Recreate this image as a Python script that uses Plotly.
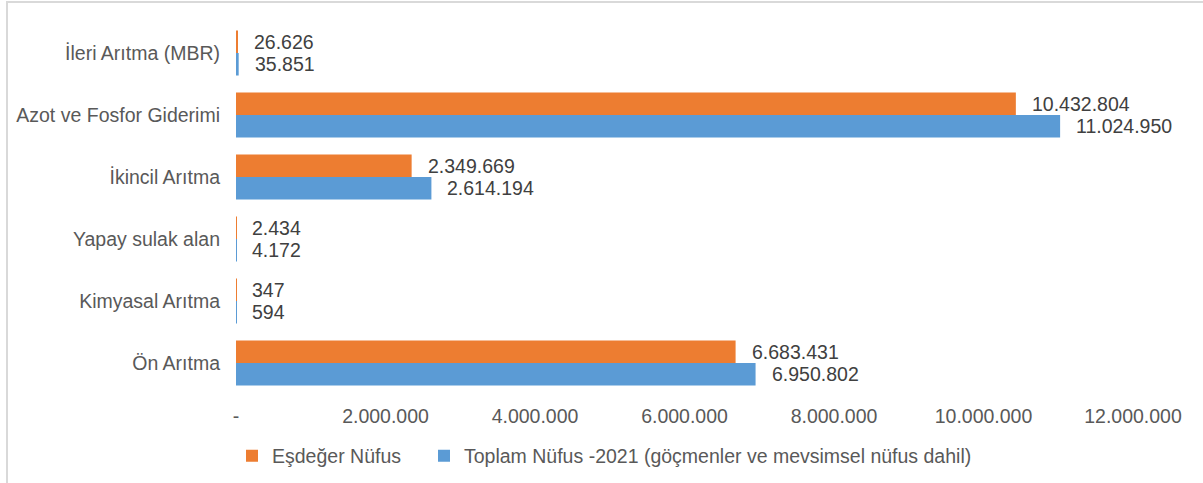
import plotly.graph_objects as go

# ---- data ----
categories = ["İleri Arıtma (MBR)", "Azot ve Fosfor Giderimi", "İkincil Arıtma",
              "Yapay sulak alan", "Kimyasal Arıtma", "Ön Arıtma"]
esdeger_nufus = [26626, 10432804, 2349669, 2434, 347, 6683431]
toplam_nufus = [35851, 11024950, 2614194, 4172, 594, 6950802]
series_names = ["Eşdeğer Nüfus", "Toplam Nüfus -2021 (göçmenler ve mevsimsel nüfus dahil)"]
tick_values = [0, 2000000, 4000000, 6000000, 8000000, 10000000, 12000000]
tick_labels = ["-", "2.000.000", "4.000.000", "6.000.000", "8.000.000", "10.000.000", "12.000.000"]

# ---- style ----
W, H = 1203, 483
ML, MR, MT, MB = 236, 70, 22, 89
ORANGE = "#ED7D31"
BLUE = "#5B9BD5"
AXIS_COLOR = "#595959"
LABEL_COLOR = "#404040"
FONT = "Liberation Sans, Arial, Helvetica, sans-serif"
FS = 19.5
BARGAP = 0.274


def fmt(v):
    return f"{v:,}".replace(",", ".")


fig = go.Figure()
fig.add_trace(go.Bar(y=categories, x=esdeger_nufus, orientation="h", name=series_names[0],
                     marker=dict(color=ORANGE, line=dict(width=0)), legend="legend"))
fig.add_trace(go.Bar(y=categories, x=toplam_nufus, orientation="h", name=series_names[1],
                     marker=dict(color=BLUE, line=dict(width=0)), legend="legend2"))

# data labels
half = (1 - BARGAP) / 2 / 2
annotations = []
for i, (a, b) in enumerate(zip(esdeger_nufus, toplam_nufus)):
    for val, off in ((a, -half), (b, half)):
        annotations.append(dict(x=val, y=i + off, xref="x", yref="y", text=fmt(val),
                                showarrow=False, xanchor="left", yanchor="middle", xshift=14,
                                font=dict(family=FONT, size=FS, color=LABEL_COLOR)))

pw = W - ML - MR
ph = H - MT - MB


def px_x(p):
    return (p - ML) / pw


def px_y(p):
    return (H - MB - p) / ph


shapes = [
    dict(type="line", xref="paper", yref="paper", x0=px_x(7), x1=px_x(7), y0=px_y(1), y1=px_y(H + 5),
         line=dict(color="#D9D9D9", width=2)),
    dict(type="line", xref="paper", yref="paper", x0=px_x(6), x1=px_x(W + 5), y0=px_y(2), y1=px_y(2),
         line=dict(color="#D9D9D9", width=2)),
]

legend_common = dict(orientation="h", xanchor="left", yanchor="middle",
                     font=dict(family=FONT, size=FS, color=AXIS_COLOR), bgcolor="rgba(0,0,0,0)")

fig.update_layout(
    width=W, height=H,
    margin=dict(l=ML, r=MR, t=MT, b=MB, autoexpand=False),
    paper_bgcolor="white", plot_bgcolor="white",
    barmode="group", bargap=BARGAP, bargroupgap=0,
    font=dict(family=FONT, size=FS, color=AXIS_COLOR),
    showlegend=True,
    legend=dict(x=px_x(232), y=px_y(456), **legend_common),
    legend2=dict(x=px_x(424), y=px_y(456), **legend_common),
    annotations=annotations,
    shapes=shapes,
)
fig.update_xaxes(range=[0, 12000000], tickvals=tick_values, ticktext=tick_labels,
                 showgrid=False, zeroline=False, showline=False, ticks="",
                 tickfont=dict(family=FONT, size=FS, color=AXIS_COLOR), ticklabelstandoff=8,
                 fixedrange=True)
fig.update_yaxes(autorange="reversed", showgrid=False, zeroline=False, showline=False, ticks="",
                 tickfont=dict(family=FONT, size=FS, color=AXIS_COLOR), ticklabelstandoff=15,
                 type="category", fixedrange=True)

fig.write_html("out.html", config={"displayModeBar": False})
